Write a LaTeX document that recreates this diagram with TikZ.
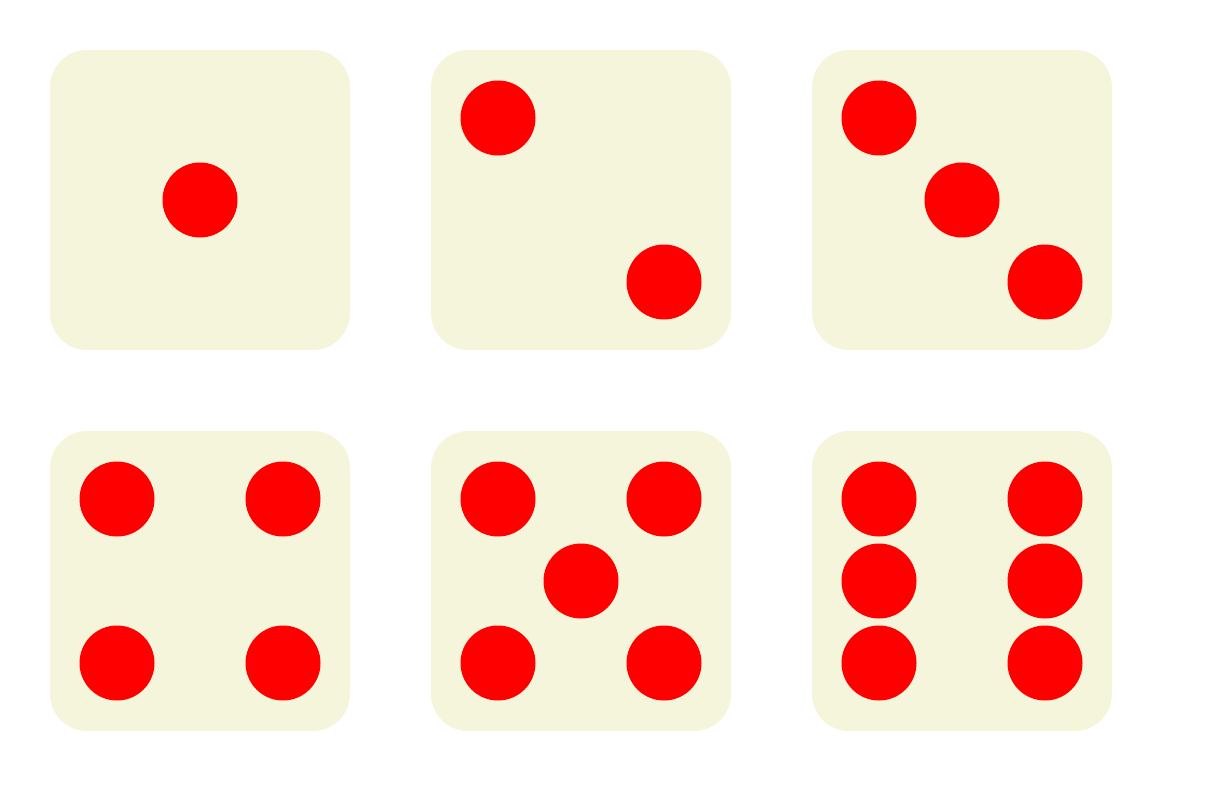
\documentclass[tikz,border=0pt]{standalone}
\definecolor{diebeige}{RGB}{245,245,220}
\begin{document}
\begin{tikzpicture}
  [x=1pt,y=-1pt,
   die/.style={rectangle,fill=diebeige,rounded corners=37pt,minimum size=300pt,inner sep=0pt},
   pip/.style={circle,fill=red,minimum size=75pt,inner sep=0pt}]
  \useasboundingbox (0,0) rectangle (1206,786);

  % faces
  \node[die] (d1) at (200,200) {};
  \node[die] (d2) at (581,200) {};
  \node[die] (d3) at (962,200) {};
  \node[die] (d4) at (200,581) {};
  \node[die] (d5) at (581,581) {};
  \node[die] (d6) at (962,581) {};

  % pips
  \node[pip] (p1) at (200,200) {};

  \node[pip] (p2a) at (498,118) {};
  \node[pip] (p2b) at (664,282) {};

  \foreach \n/\x/\y in {a/879/118,b/962/200,c/1045/282}
    \node[pip] (p3\n) at (\x,\y) {};

  \foreach \n/\x/\y in {a/117/499,b/283/499,c/117/663,d/283/663}
    \node[pip] (p4\n) at (\x,\y) {};

  \foreach \n/\x/\y in {a/498/499,b/664/499,c/581/581,d/498/663,e/664/663}
    \node[pip] (p5\n) at (\x,\y) {};

  \foreach \n/\x/\y in {a/879/499,b/1045/499,c/879/581,d/1045/581,e/879/663,f/1045/663}
    \node[pip] (p6\n) at (\x,\y) {};

\end{tikzpicture}
\end{document}
